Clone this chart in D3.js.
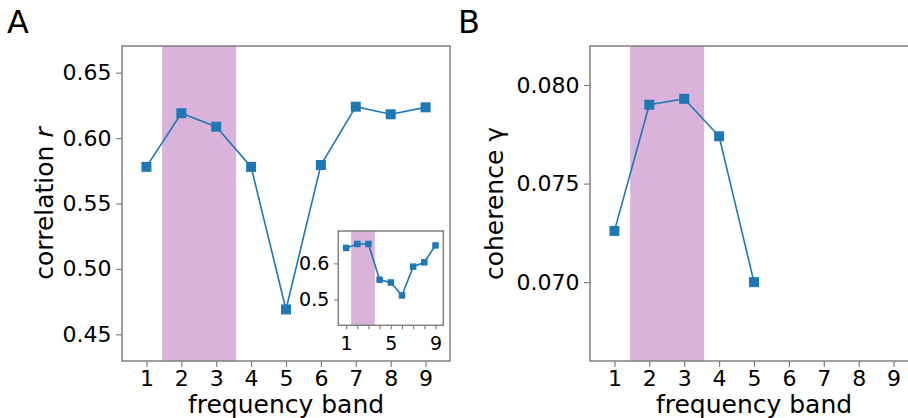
<!DOCTYPE html>
<html>
<head>
<meta charset="utf-8">
<script src="https://cdn.jsdelivr.net/npm/d3@7"></script>
<style>
  body { margin: 0; background: #fff; }
  svg { display: block; font-family: "DejaVu Sans", sans-serif; }
</style>
</head>
<body>
<div id="chart"></div>
<script>
// data
const bands = [1, 2, 3, 4, 5, 6, 7, 8, 9];
const corrR = [0.578, 0.619, 0.6087, 0.578, 0.469, 0.5794, 0.624, 0.6182, 0.6235];
const insetR = [0.643, 0.654, 0.654, 0.5545, 0.547, 0.511, 0.591, 0.603, 0.650];
const cohBands = [1, 2, 3, 4, 5];
const cohGamma = [0.0726, 0.0790, 0.0793, 0.0774, 0.0700];
const shadeBand = [1.45, 3.57];

const corrTicks = [0.45, 0.50, 0.55, 0.60, 0.65];
const cohTicks = [0.070, 0.075, 0.080];
const insetYTicks = [0.5, 0.6];
const insetXLabels = [1, 5, 9];

const width = 908;
const height = 418;
const blue = "#1f77b4";
const spine = "#808080";
const shade = "#d9b3d9";

const svg = d3.select("#chart")
  .append("svg")
  .attr("width", width)
  .attr("height", height);

// draws one axes box with shaded band, line + square markers
function drawPanel(opt) {
  const x = d3.scaleLinear().domain([0.3, 9.7]).range([opt.left, opt.right]);
  const y = d3.scaleLinear().domain(opt.yDomain).range([opt.bottom, opt.top]);
  const g = svg.append("g");

  g.append("rect")
    .attr("x", opt.left).attr("y", opt.top)
    .attr("width", opt.right - opt.left)
    .attr("height", opt.bottom - opt.top)
    .attr("fill", "#fff");

  g.append("rect")
    .attr("x", x(shadeBand[0]))
    .attr("y", opt.top)
    .attr("width", x(shadeBand[1]) - x(shadeBand[0]))
    .attr("height", opt.bottom - opt.top)
    .attr("fill", shade);

  const pts = opt.xs.map((d, i) => [d, opt.ys[i]]);

  g.append("path")
    .datum(pts)
    .attr("fill", "none")
    .attr("stroke", blue)
    .attr("stroke-width", 1.6)
    .attr("d", d3.line().x(d => x(d[0])).y(d => y(d[1])));

  g.selectAll(".mk")
    .data(pts)
    .enter()
    .append("rect")
    .attr("x", d => x(d[0]) - opt.marker / 2)
    .attr("y", d => y(d[1]) - opt.marker / 2)
    .attr("width", opt.marker)
    .attr("height", opt.marker)
    .attr("fill", blue);

  // spines
  g.append("rect")
    .attr("x", opt.left).attr("y", opt.top)
    .attr("width", opt.right - opt.left)
    .attr("height", opt.bottom - opt.top)
    .attr("fill", "none")
    .attr("stroke", spine)
    .attr("stroke-width", 1.5);

  const xAxis = g.append("g")
    .attr("transform", `translate(0,${opt.bottom})`)
    .call(d3.axisBottom(x)
      .tickValues(bands)
      .tickFormat(d => opt.xLabels.includes(d) ? d : "")
      .tickSize(opt.tickSize)
      .tickPadding(opt.xPad));

  const yAxis = g.append("g")
    .attr("transform", `translate(${opt.left},0)`)
    .call(d3.axisLeft(y)
      .tickValues(opt.yTicks)
      .tickFormat(d3.format(opt.yFmt))
      .tickSize(opt.tickSize)
      .tickPadding(opt.yPad));

  [xAxis, yAxis].forEach(a => {
    a.select(".domain").remove();
    a.selectAll("line").attr("stroke", spine).attr("stroke-width", 1.2);
    a.selectAll("text")
      .attr("fill", "#000")
      .style("font-family", "DejaVu Sans")
      .style("font-size", opt.fontSize + "px");
  });

  return g;
}

// Panel A
drawPanel({
  left: 122, right: 450, top: 46, bottom: 361,
  yDomain: [0.4296, 0.6704],
  xs: bands, ys: corrR,
  yTicks: corrTicks, yFmt: ".2f",
  xLabels: bands,
  marker: 10, tickSize: 6, xPad: 3, yPad: 4.5, fontSize: 22
});

// inset in panel A
drawPanel({
  left: 338.3, right: 443.3, top: 231, bottom: 325.3,
  yDomain: [0.428, 0.69],
  xs: bands, ys: insetR,
  yTicks: insetYTicks, yFmt: ".1f",
  xLabels: insetXLabels,
  marker: 6.5, tickSize: 4, xPad: 7, yPad: 5, fontSize: 19
});

// Panel B (right edge runs past the picture)
drawPanel({
  left: 590, right: 918, top: 46, bottom: 361,
  yDomain: [0.066, 0.08198],
  xs: cohBands, ys: cohGamma,
  yTicks: cohTicks, yFmt: ".3f",
  xLabels: bands,
  marker: 10, tickSize: 6, xPad: 3, yPad: 4.5, fontSize: 22
});

// axis labels
const labelSize = 25;
const midY = (46 + 361) / 2;

svg.append("text")
  .attr("x", 286).attr("y", 413)
  .attr("text-anchor", "middle")
  .style("font-size", labelSize + "px")
  .text("frequency band");

svg.append("text")
  .attr("x", 754).attr("y", 413)
  .attr("text-anchor", "middle")
  .style("font-size", labelSize + "px")
  .text("frequency band");

const yLabA = svg.append("text")
  .attr("transform", `translate(53,${midY}) rotate(-90)`)
  .attr("text-anchor", "middle")
  .style("font-size", labelSize + "px");
yLabA.append("tspan").text("correlation ");
yLabA.append("tspan").style("font-style", "italic").text("r");

svg.append("text")
  .attr("transform", `translate(503,${midY}) rotate(-90)`)
  .attr("text-anchor", "middle")
  .style("font-size", labelSize + "px")
  .text("coherence γ");

// panel letters
svg.append("text")
  .attr("x", 7).attr("y", 33)
  .style("font-size", "32px")
  .text("A");

svg.append("text")
  .attr("x", 458).attr("y", 33)
  .style("font-size", "32px")
  .text("B");
</script>
</body>
</html>
